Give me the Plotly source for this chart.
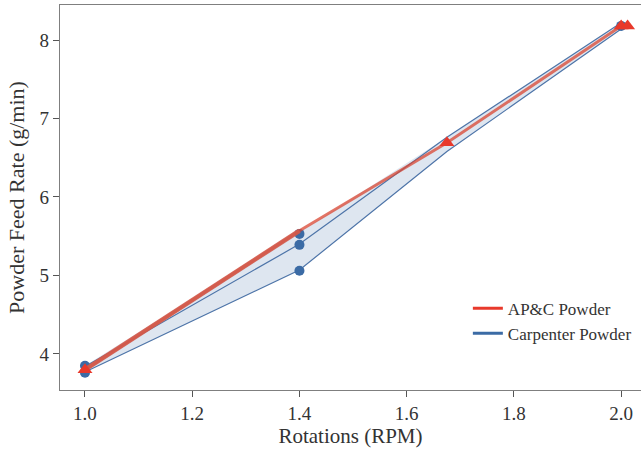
import plotly.graph_objects as go

# ---- data ----
rpm_band = [1.0, 1.4, 1.675, 2.0]
carp_upper = [3.85, 5.55, 6.76, 8.22]
carp_lower = [3.77, 5.07, 6.58, 8.14]
carp_line_hi = [3.84, 5.40, 6.76, 8.22]
carp_line_lo = [3.77, 5.07, 6.58, 8.14]
carp_pts_x = [1.0, 1.0, 1.4, 1.4, 1.4, 2.0]
carp_pts_y = [3.85, 3.76, 5.53, 5.39, 5.06, 8.18]
apc_line_x = [1.0, 1.4, 1.675, 2.0, 2.012]
apc_line_y = [3.80, 5.57, 6.69, 8.18, 8.18]
apc_pts_x = [1.0, 1.675, 2.0, 2.012]
apc_pts_y = [3.80, 6.69, 8.18, 8.18]
x_ticks = [1.0, 1.2, 1.4, 1.6, 1.8, 2.0]
y_ticks = [4, 5, 6, 7, 8]

RED = "#e8392b"
BLUE = "#3b6ba5"
FONT = "Liberation Serif"

fig = go.Figure()

# Carpenter band
fig.add_trace(go.Scatter(x=rpm_band, y=carp_upper, mode="lines", line=dict(width=0),
                         showlegend=False, hoverinfo="skip"))
fig.add_trace(go.Scatter(x=rpm_band, y=carp_lower, mode="lines", line=dict(width=0),
                         fill="tonexty", fillcolor="rgba(59,107,165,0.17)",
                         showlegend=False, hoverinfo="skip"))
fig.add_trace(go.Scatter(x=rpm_band, y=carp_line_hi, mode="lines",
                         line=dict(color="#4d74a8", width=1.2), showlegend=False))
fig.add_trace(go.Scatter(x=rpm_band, y=carp_line_lo, mode="lines",
                         line=dict(color="#4d74a8", width=1.2), showlegend=False))
fig.add_trace(go.Scatter(x=carp_pts_x, y=carp_pts_y, mode="markers",
                         marker=dict(color=BLUE, size=10, symbol="circle"), showlegend=False))

# AP&C line
fig.add_trace(go.Scatter(x=apc_line_x, y=apc_line_y, mode="lines",
                         line=dict(color="rgba(218,70,50,0.75)", width=3), showlegend=False))
fig.add_trace(go.Scatter(x=apc_line_x[:2], y=apc_line_y[:2], mode="lines",
                         line=dict(color="rgba(210,90,75,0.9)", width=4.5), showlegend=False))
fig.add_trace(go.Scatter(x=apc_pts_x, y=apc_pts_y, mode="markers",
                         marker=dict(color=RED, size=13, symbol="triangle-up"), showlegend=False))

# legend entries
fig.add_trace(go.Scatter(x=[None], y=[None], mode="lines", name="AP&C Powder",
                         line=dict(color=RED, width=3)))
fig.add_trace(go.Scatter(x=[None], y=[None], mode="lines", name="Carpenter Powder",
                         line=dict(color=BLUE, width=3)))

axis_common = dict(showgrid=False, zeroline=False, showline=True, linecolor="#7f7f7f",
                   linewidth=1.3, ticks="outside", ticklen=6, tickwidth=1.2,
                   tickcolor="#555555", automargin=False,
                   tickfont=dict(family=FONT, size=19, color="#333333"))

fig.update_xaxes(range=[0.9534, 2.037], tickvals=x_ticks,
                 ticktext=[f"{v:.1f}" for v in x_ticks], mirror=True,
                 title=dict(text="Rotations (RPM)", font=dict(family=FONT, size=21, color="#333333"),
                            standoff=5),
                 **axis_common)
fig.update_yaxes(range=[3.541, 8.446], tickvals=y_ticks,
                 ticktext=[str(v) for v in y_ticks],
                 title=dict(text="Powder Feed Rate (g/min)",
                            font=dict(family=FONT, size=22, color="#333333"), standoff=8),
                 **axis_common)

fig.update_layout(
    width=641, height=452,
    margin=dict(l=60, r=0, t=5, b=62, autoexpand=False),
    plot_bgcolor="white", paper_bgcolor="white",
    legend=dict(x=0.702, y=0.258, xanchor="left", yanchor="top",
                bgcolor="rgba(0,0,0,0)", font=dict(family=FONT, size=17, color="#333333"),
                itemwidth=30, tracegroupgap=0, traceorder="normal"),
)

fig.write_html("out.html", config={"displayModeBar": False, "responsive": False},
               post_script="document.body.style.margin='0';document.body.style.padding='0';")
